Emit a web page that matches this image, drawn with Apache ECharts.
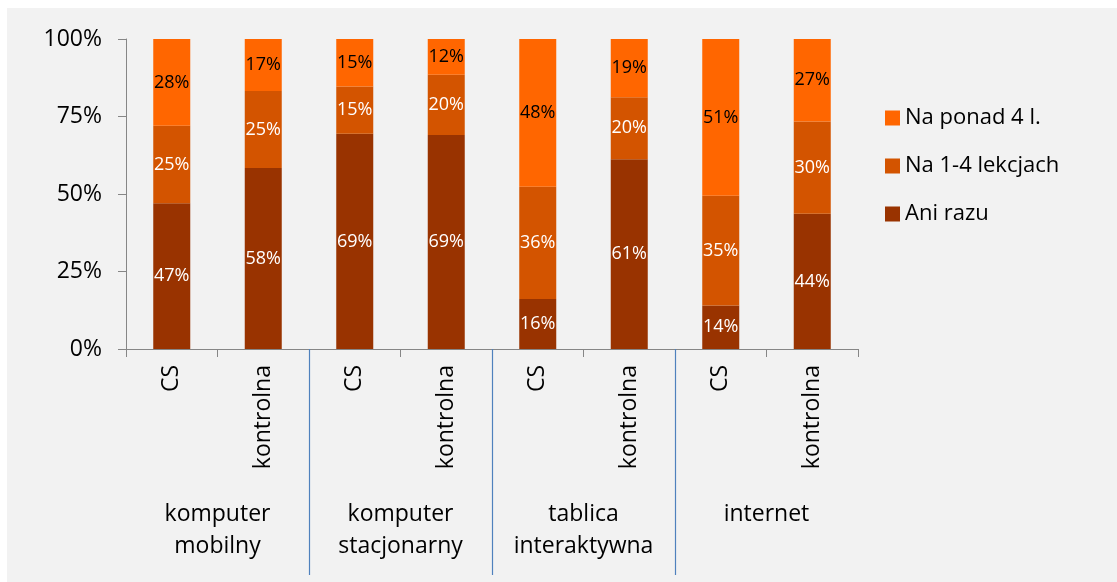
<!DOCTYPE html>
<html>
<head>
<meta charset="utf-8">
<script src="https://cdn.jsdelivr.net/npm/echarts@6/dist/echarts.min.js"></script>
<style>
  html, body { margin: 0; padding: 0; background: #ffffff; }
  #chart { width: 1117px; height: 582px; }
</style>
</head>
<body>
<div id="chart"></div>
<script>
const categories = ['CS', 'kontrolna', 'CS', 'kontrolna', 'CS', 'kontrolna', 'CS', 'kontrolna'];
const groups = ['komputer\nmobilny', 'komputer\nstacjonarny', 'tablica\ninteraktywna', 'internet'];
const aniRazu = [47, 58.4, 69.4, 69.0, 16.1, 61.2, 14.0, 43.6];
const na14 = [25, 24.8, 15.3, 19.5, 36.2, 20.0, 35.4, 29.8];
const ponad4 = [28, 16.8, 15.3, 11.5, 47.7, 18.8, 50.6, 26.6];
const yTicks = [0, 25, 50, 75, 100];

const FONT = 'Open Sans';
const chart = echarts.init(document.getElementById('chart'), null, { renderer: 'canvas' });

function labelCfg(color) {
  return {
    show: true,
    position: 'inside',
    color: color,
    fontSize: 18,
    fontFamily: FONT,
    textBorderWidth: 0,
    formatter: p => Math.round(p.value) + '%'
  };
}

const option = {
  backgroundColor: '#ffffff',
  animation: false,
  textStyle: { fontFamily: FONT },
  grid: { left: 126, right: 259, top: 39, bottom: 233, containLabel: false },
  legend: {
    orient: 'vertical',
    left: 880,
    top: 102,
    icon: 'rect',
    itemWidth: 15,
    itemHeight: 15,
    itemGap: 26,
    data: ['Na ponad 4 l.', 'Na 1-4 lekcjach', 'Ani razu'],
    textStyle: { fontSize: 22, color: '#000', lineHeight: 22, fontFamily: FONT }
  },
  xAxis: [
    {
      type: 'category',
      data: categories,
      position: 'bottom',
      axisLine: { show: true, lineStyle: { color: '#868686', width: 1 } },
      axisTick: { show: true, length: 8, lineStyle: { color: '#868686' } },
      axisLabel: { rotate: 90, fontSize: 23, color: '#000', margin: 16, interval: 0, fontFamily: FONT }
    },
    {
      type: 'category',
      data: groups,
      position: 'bottom',
      offset: 141,
      axisLine: { show: false },
      axisTick: { show: false },
      axisLabel: { fontSize: 23, lineHeight: 32, color: '#000', margin: 8, interval: 0, fontFamily: FONT }
    }
  ],
  yAxis: {
    type: 'value',
    min: 0,
    max: 100,
    interval: 25,
    axisLine: { show: true, lineStyle: { color: '#868686' } },
    axisTick: { show: true, length: 8, lineStyle: { color: '#868686' } },
    splitLine: { show: false },
    axisLabel: {
      fontSize: 23, color: '#000', margin: 24, fontFamily: FONT,
      formatter: v => (yTicks.indexOf(v) >= 0 ? v + '%' : '')
    }
  },
  series: [
    { name: 'Ani razu', type: 'bar', stack: 'all', data: aniRazu, barWidth: 37,
      itemStyle: { color: '#993300' }, label: labelCfg('#ffffff') },
    { name: 'Na 1-4 lekcjach', type: 'bar', stack: 'all', data: na14, barWidth: 37,
      itemStyle: { color: '#d35400' }, label: labelCfg('#ffffff') },
    { name: 'Na ponad 4 l.', type: 'bar', stack: 'all', data: ponad4, barWidth: 37,
      itemStyle: { color: '#ff6600' }, label: labelCfg('#000000') }
  ]
};
chart.setOption(option);

// background panel and group separators
const y0 = chart.convertToPixel({ yAxisIndex: 0 }, 0);
const seps = [];
[1, 3, 5].forEach(i => {
  const a = chart.convertToPixel({ xAxisIndex: 0 }, i);
  const b = chart.convertToPixel({ xAxisIndex: 0 }, i + 1);
  const x = Math.round((a + b) / 2) + 0.5;
  seps.push({
    type: 'line', silent: true, z: 1,
    shape: { x1: x, y1: y0, x2: x, y2: 575 },
    style: { stroke: '#4f81bd', lineWidth: 1.2 }
  });
});
chart.setOption({
  graphic: [
    { type: 'rect', silent: true, z: -10, shape: { x: 7, y: 8, width: 1110, height: 574 },
      style: { fill: '#f2f2f2' } }
  ].concat(seps)
});
</script>
</body>
</html>
